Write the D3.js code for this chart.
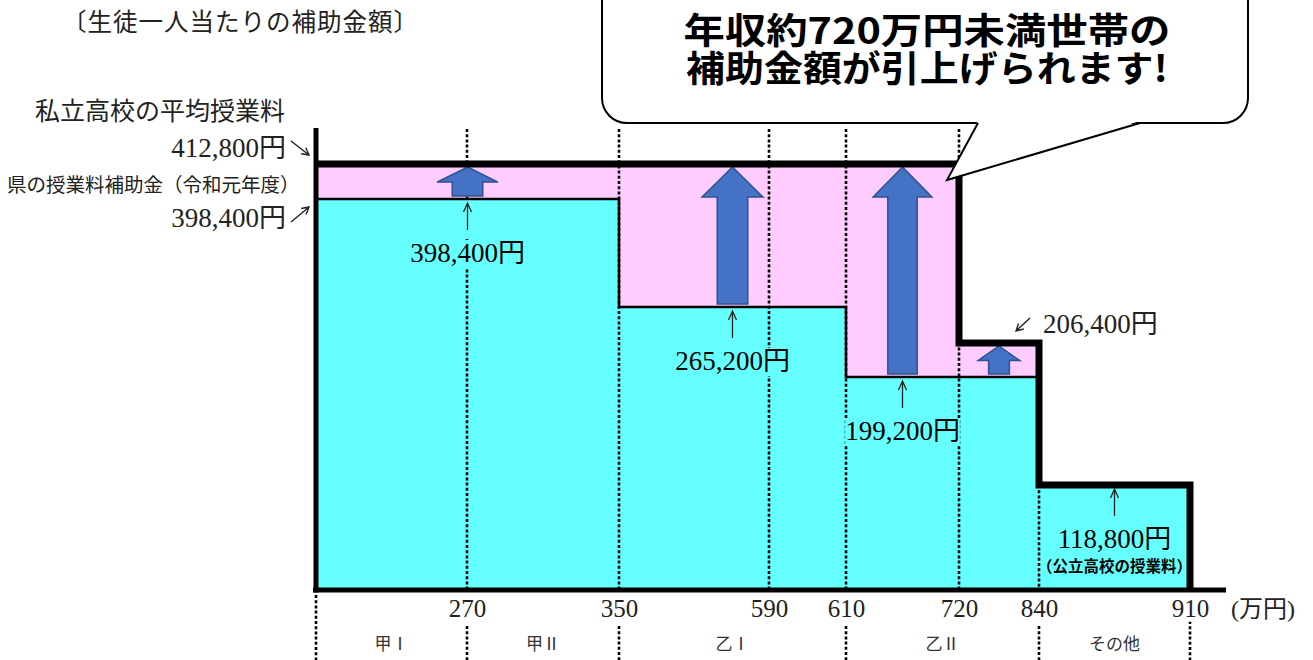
<!DOCTYPE html>
<html>
<head>
<meta charset="utf-8">
<script src="https://cdn.jsdelivr.net/npm/d3@7"></script>
<style>
  body { margin: 0; background: #fff; }
  svg { display: block; }
</style>
</head>
<body>
<div id="wrapper"></div>
<script>
// ---- data ----
const incomeBreaks = [0, 270, 350, 590, 610, 720, 840, 910]   // 万円
const segmentStart = [0, 350, 610, 720, 840]
const segmentEnd = [350, 610, 720, 840, 910]
const oldSubsidy = [398400, 265200, 199200, 199200, 118800]  // 令和元年度
const newSubsidy = [412800, 412800, 412800, 206400, 118800]  // 引上げ後
const categoryNames = ["甲Ⅰ", "甲Ⅱ", "乙Ⅰ", "乙Ⅱ", "その他"]
const categoryBounds = [0, 270, 350, 610, 840, 910]
const privateTuition = 412800
const prefSubsidyR1 = 398400
const titleText = "〔生徒一人当たりの補助金額〕"
const privateLabel = "私立高校の平均授業料"
const prefLabel = "県の授業料補助金（令和元年度）"
const publicNote = "（公立高校の授業料）"
const unitLabel = "(万円)"
const calloutLines = ["年収約720万円未満世帯の", "補助金額が引上げられます!"]

// ---- layout (the original is a schematic, not drawn to scale) ----
const dimensions = { width: 1313, height: 660 }
const xPositions = [316, 467, 619, 769, 846, 959, 1039, 1190]
const yPositions = [590, 485, 377, 343, 307, 199, 164]
const yTop = 129
const calloutWidths = [487, 482]

const serif = "'Liberation Serif', 'Noto Sans CJK JP', serif"
const gothic = "'Noto Sans CJK JP', sans-serif"
const cyan = "#66ffff"
const pink = "#ffccff"
const yen = v => d3.format(",")(v) + "円"

const svg = d3.select("#wrapper").append("svg")
    .attr("width", dimensions.width)
    .attr("height", dimensions.height)

// scales
const xScale = d3.scaleLinear().domain(incomeBreaks).range(xPositions)
const yLevels = Array.from(new Set([0, ...oldSubsidy, ...newSubsidy])).sort(d3.ascending)
const yScale = d3.scaleLinear().domain(yLevels).range(yPositions)

const segments = segmentStart.map((s, i) => ({
    s, e: segmentEnd[i], old: oldSubsidy[i], nu: newSubsidy[i], i
}))
const mid = d => (xScale(d.s) + xScale(d.e)) / 2

// fills
svg.append("g").selectAll("rect").data(segments).join("rect")
    .attr("x", d => xScale(d.s))
    .attr("width", d => xScale(d.e) - xScale(d.s))
    .attr("y", d => yScale(d.old))
    .attr("height", d => yScale(0) - yScale(d.old))
    .attr("fill", cyan)
svg.append("g").selectAll("rect").data(segments.filter(d => d.nu > d.old)).join("rect")
    .attr("x", d => xScale(d.s))
    .attr("width", d => xScale(d.e) - xScale(d.s))
    .attr("y", d => yScale(d.nu))
    .attr("height", d => yScale(d.old) - yScale(d.nu))
    .attr("fill", pink)

// dotted income lines inside the chart
const dotted = g => g.attr("stroke", "#000").attr("stroke-width", 2.6).attr("stroke-dasharray", "3 2.2")
svg.append("g").call(dotted).selectAll("line").data(incomeBreaks.slice(1)).join("line")
    .attr("x1", d => xScale(d)).attr("x2", d => xScale(d))
    .attr("y1", d => {
        if (d <= 720) return yTop
        const seg = segments.find(s => s.s === d) || segments[segments.length - 1]
        return yScale(seg.nu)
    })
    .attr("y2", yScale(0))

// dotted category separators below the axis
svg.append("g").call(dotted).selectAll("line").data(categoryBounds).join("line")
    .attr("x1", d => xScale(d)).attr("x2", d => xScale(d))
    .attr("y1", (d, i) => (i === 0 || i === categoryBounds.length - 1) ? 595 : 626)
    .attr("y2", dimensions.height)

// old subsidy step line (thin)
const stepLine = d3.line()
    .x(d => xScale(d[0]))
    .y(d => yScale(d[1]))
    .curve(d3.curveStepAfter)
const oldPts = segments.filter(d => d.s < 840).map(d => [d.s, d.old])
oldPts.push([840, oldPts[oldPts.length - 1][1]])
svg.append("path")
    .attr("d", stepLine(oldPts))
    .attr("fill", "none").attr("stroke", "#000").attr("stroke-width", 2.5)

// value labels with small up arrows
const arrowUp = (g, cx, top, bottom) => {
    g.append("path")
        .attr("d", `M${cx},${bottom}V${top}M${cx - 4},${top + 9}L${cx},${top}L${cx + 4},${top + 9}`)
        .attr("fill", "none").attr("stroke", "#222").attr("stroke-width", 1.3)
}
const labelled = segments.filter((d, i) => i === 0 || d.old !== segments[i - 1].old)
labelled.forEach(d => {
    const g = svg.append("g")
    const cx = mid(d), y0 = yScale(d.old)
    g.append("rect").attr("x", cx - 5).attr("y", y0 + 2).attr("width", 10).attr("height", 38).attr("fill", cyan)
    const bg = g.append("rect").attr("fill", cyan)
    arrowUp(g, cx, y0 + 4, y0 + 31)
    const t = g.append("text")
        .attr("x", cx).attr("y", y0 + 63)
        .attr("text-anchor", "middle")
        .style("font-family", serif).style("font-size", "27px")
        .text(yen(d.old))
    const b = t.node().getBBox()
    bg.attr("x", b.x).attr("y", b.y + 2).attr("width", b.width).attr("height", b.height - 2)
    if (d.i === segments.length - 1) {
        g.append("text")
            .attr("x", cx).attr("y", y0 + 87)
            .attr("text-anchor", "middle")
            .style("font-family", gothic).style("font-size", "15.5px").style("font-weight", 700)
            .text(publicNote)
    }
})

// blue block arrows (increase)
svg.append("g").selectAll("path").data(segments.filter(d => d.nu > d.old)).join("path")
    .attr("d", d => {
        const cx = mid(d)
        const tip = yScale(d.nu) + 3
        const base = yScale(d.old) - 3
        const hh = Math.min(30, (base - tip) * 0.52)
        const hw = Math.min(61, (xScale(d.e) - xScale(d.s)) * 0.52) / 2
        const sw = hw / 2
        return `M${cx},${tip}L${cx + hw},${tip + hh}L${cx + sw},${tip + hh}L${cx + sw},${base}` +
            `L${cx - sw},${base}L${cx - sw},${tip + hh}L${cx - hw},${tip + hh}Z`
    })
    .attr("fill", "#4472c4").attr("stroke", "#2f528f").attr("stroke-width", 1.5)

// new subsidy outline (thick)
const newPts = segments.map(d => [d.s, d.nu])
newPts.push([incomeBreaks[incomeBreaks.length - 1], 0])
svg.append("path")
    .attr("d", stepLine(newPts))
    .attr("fill", "none").attr("stroke", "#000").attr("stroke-width", 7)
    .attr("stroke-linejoin", "miter")

// axes
svg.append("line")
    .attr("x1", xScale(0)).attr("x2", xScale(0))
    .attr("y1", yTop - 1).attr("y2", yScale(0) + 2.5)
    .attr("stroke", "#000").attr("stroke-width", 5)
svg.append("line")
    .attr("x1", xScale(0) - 3).attr("x2", 1226)
    .attr("y1", yScale(0)).attr("y2", yScale(0))
    .attr("stroke", "#000").attr("stroke-width", 5)

const xAxis = svg.append("g")
    .attr("transform", `translate(0,${yScale(0)})`)
    .call(d3.axisBottom(xScale).tickValues(incomeBreaks.slice(1)).tickSize(0).tickPadding(9))
xAxis.select(".domain").remove()
xAxis.selectAll("text")
    .style("font-family", serif).style("font-size", "25px").attr("fill", "#222")
xAxis.selectAll(".tick").each(function () {
    const b = this.querySelector("text").getBBox()
    d3.select(this).insert("rect", "text")
        .attr("x", b.x).attr("y", b.y).attr("width", b.width).attr("height", b.height)
        .attr("fill", "#fff")
})
svg.append("text")
    .attr("x", 1231).attr("y", 617)
    .style("font-family", serif).style("font-size", "24px").attr("fill", "#222")
    .text(unitLabel)

// category names
svg.append("g").selectAll("text").data(categoryNames).join("text")
    .attr("x", (d, i) => (xScale(categoryBounds[i]) + xScale(categoryBounds[i + 1])) / 2)
    .attr("y", 650)
    .attr("text-anchor", "middle")
    .style("font-family", gothic).style("font-size", "17px").attr("fill", "#333")
    .text(d => d)

// left side labels
const thinArrow = (x1, y1, x2, y2) => {
    const a = Math.atan2(y2 - y1, x2 - x1), L = 8, w = 0.5
    svg.append("path")
        .attr("d", `M${x1},${y1}L${x2},${y2}` +
            `M${x2 - L * Math.cos(a - w)},${y2 - L * Math.sin(a - w)}L${x2},${y2}` +
            `L${x2 - L * Math.cos(a + w)},${y2 - L * Math.sin(a + w)}`)
        .attr("fill", "none").attr("stroke", "#222").attr("stroke-width", 1.4)
}
svg.append("text")
    .attr("x", 62).attr("y", 31)
    .style("font-family", gothic).style("font-size", "24.5px").attr("fill", "#222")
    .style("letter-spacing", "1px")
    .text(titleText)
svg.append("text")
    .attr("x", 35).attr("y", 120)
    .style("font-family", gothic).style("font-size", "25px").attr("fill", "#222")
    .text(privateLabel)
svg.append("text")
    .attr("x", 286).attr("y", yScale(privateTuition) - 7)
    .attr("text-anchor", "end")
    .style("font-family", serif).style("font-size", "27px").attr("fill", "#222")
    .text(yen(privateTuition))
thinArrow(291, yScale(privateTuition) - 23, 309, yScale(privateTuition) - 9)
svg.append("text")
    .attr("x", 7).attr("y", 192)
    .style("font-family", gothic).style("font-size", "19.5px").attr("fill", "#222")
    .text(prefLabel)
svg.append("text")
    .attr("x", 286).attr("y", yScale(prefSubsidyR1) + 28)
    .attr("text-anchor", "end")
    .style("font-family", serif).style("font-size", "27px").attr("fill", "#222")
    .text(yen(prefSubsidyR1))
thinArrow(291, yScale(prefSubsidyR1) + 23, 309, yScale(prefSubsidyR1) + 8)

// label for the smaller raised band
segments.filter(d => d.nu > d.old && d.nu < privateTuition).forEach(d => {
    const xe = xScale(d.e), yn = yScale(d.nu)
    thinArrow(xe - 9, yn - 25, xe - 23, yn - 12)
    svg.append("text")
        .attr("x", xe + 4).attr("y", yn - 10)
        .style("font-family", serif).style("font-size", "27px").attr("fill", "#222")
        .text(yen(d.nu))
})

// callout balloon
const callout = svg.append("g")
callout.append("rect")
    .attr("x", 602).attr("y", -30).attr("width", 646).attr("height", 153).attr("rx", 25)
    .attr("fill", "#fff").attr("stroke", "#000").attr("stroke-width", 2)
callout.append("path")
    .attr("d", "M978,121L947,180L1140,121Z")
    .attr("fill", "#fff")
callout.append("path")
    .attr("d", "M978,123L947,180L1140,123")
    .attr("fill", "none").attr("stroke", "#000").attr("stroke-width", 2).attr("stroke-linejoin", "miter")
callout.selectAll("text.call").data(calloutLines).join("text")
    .attr("class", "call")
    .attr("x", (d, i) => 925 - calloutWidths[i] / 2 + 2)
    .attr("y", (d, i) => 44 + i * 38)
    .attr("textLength", (d, i) => calloutWidths[i])
    .attr("lengthAdjust", "spacingAndGlyphs")
    .style("font-family", gothic).style("font-size", "36px").style("font-weight", 700)
    .text(d => d)
</script>
</body>
</html>
